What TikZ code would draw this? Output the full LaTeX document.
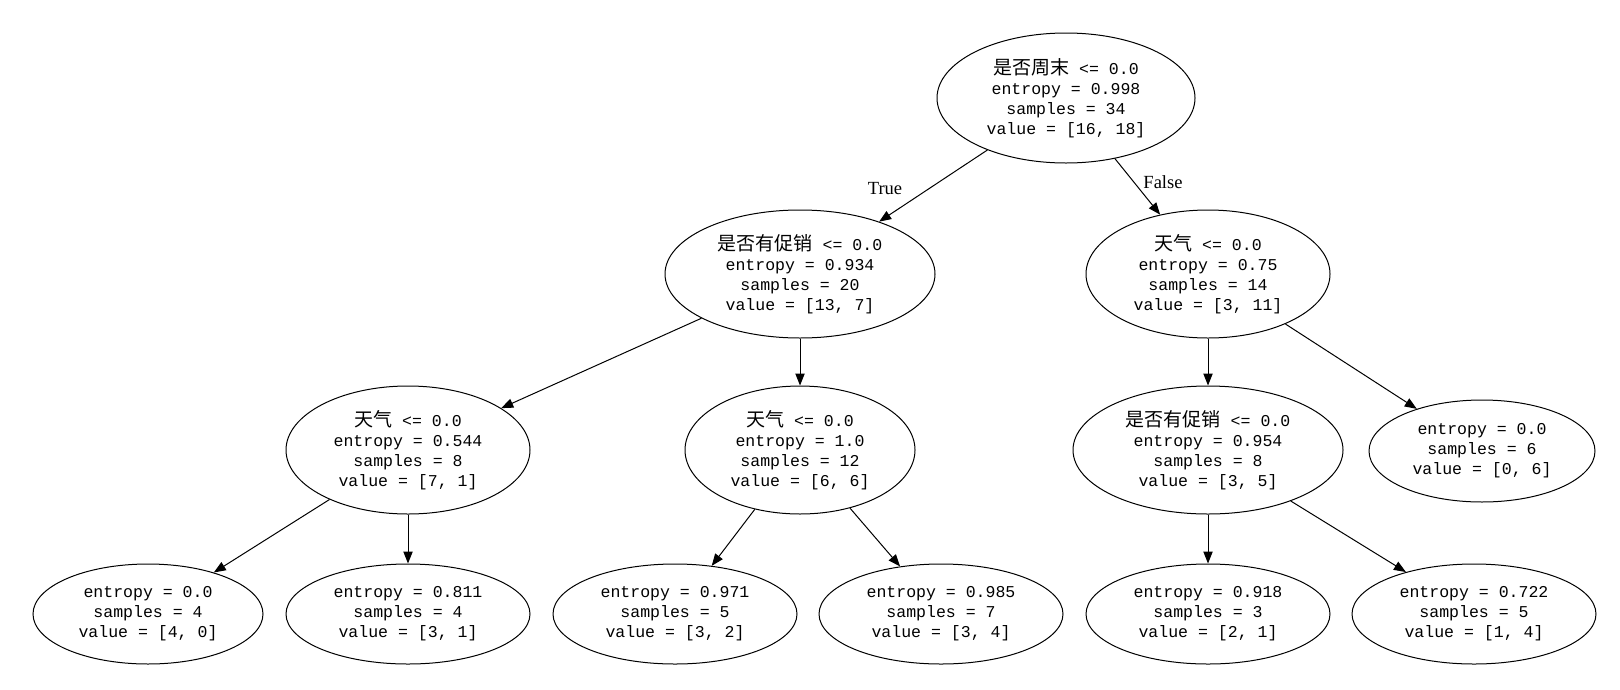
\documentclass[tikz,border=0pt]{standalone}
\usepackage{fontspec}
\setmainfont{Liberation Mono}
\newfontfamily\cjk[Scale=1.15]{Noto Sans CJK SC}
\newfontfamily\lblfont{Liberation Serif}
\usetikzlibrary{shapes.geometric,arrows.meta}
\tikzset{
  tnode/.style={draw, ellipse, inner sep=0pt, align=center, line width=0.75pt,
    font=\fontsize{12.4}{15}\selectfont},
  tedge/.style={-{Triangle[length=9pt,width=7pt]}, line width=0.75pt},
  tlabel/.style={font=\lblfont\fontsize{13.9}{16}\selectfont}
}
\begin{document}
\begin{tikzpicture}[x=0.75pt,y=0.75pt,yscale=-1,xscale=1]
\useasboundingbox (0,0) rectangle (1620,689);
% level 0
\node[tnode, minimum width=193.5pt, minimum height=97.5pt] (n0) at (1066,98) {{\cjk 是否周末} <= 0.0\\entropy = 0.998\\samples = 34\\value = [16, 18]};
% level 1
\node[tnode, minimum width=202.5pt, minimum height=96pt] (n1) at (800,274) {{\cjk 是否有促销} <= 0.0\\entropy = 0.934\\samples = 20\\value = [13, 7]};
\node[tnode, minimum width=183pt, minimum height=96pt] (n8) at (1208,274) {{\cjk 天气} <= 0.0\\entropy = 0.75\\samples = 14\\value = [3, 11]};
% level 2
\node[tnode, minimum width=183pt, minimum height=96pt] (n2) at (408,450) {{\cjk 天气} <= 0.0\\entropy = 0.544\\samples = 8\\value = [7, 1]};
\node[tnode, minimum width=172.5pt, minimum height=96pt] (n5) at (800,450) {{\cjk 天气} <= 0.0\\entropy = 1.0\\samples = 12\\value = [6, 6]};
\node[tnode, minimum width=202.5pt, minimum height=96pt] (n9) at (1208,450) {{\cjk 是否有促销} <= 0.0\\entropy = 0.954\\samples = 8\\value = [3, 5]};
\node[tnode, minimum width=169.5pt, minimum height=76.5pt] (n12) at (1482,451) {entropy = 0.0\\samples = 6\\value = [0, 6]};
% leaves
\node[tnode, minimum width=172.5pt, minimum height=75pt] (n3) at (148,614) {entropy = 0.0\\samples = 4\\value = [4, 0]};
\node[tnode, minimum width=183pt, minimum height=75pt] (n4) at (408,614) {entropy = 0.811\\samples = 4\\value = [3, 1]};
\node[tnode, minimum width=183pt, minimum height=75pt] (n6) at (675,614) {entropy = 0.971\\samples = 5\\value = [3, 2]};
\node[tnode, minimum width=183pt, minimum height=75pt] (n7) at (941,614) {entropy = 0.985\\samples = 7\\value = [3, 4]};
\node[tnode, minimum width=183pt, minimum height=75pt] (n10) at (1208,614) {entropy = 0.918\\samples = 3\\value = [2, 1]};
\node[tnode, minimum width=183pt, minimum height=75pt] (n11) at (1474,614) {entropy = 0.722\\samples = 5\\value = [1, 4]};
% edges
\draw[tedge] (n0) -- (n1);
\draw[tedge] (n0) -- (n8);
\draw[tedge] (n1) -- (n2);
\draw[tedge] (n1) -- (n5);
\draw[tedge] (n2) -- (n3);
\draw[tedge] (n2) -- (n4);
\draw[tedge] (n5) -- (n6);
\draw[tedge] (n5) -- (n7);
\draw[tedge] (n8) -- (n9);
\draw[tedge] (n8) -- (n12);
\draw[tedge] (n9) -- (n10);
\draw[tedge] (n9) -- (n11);
\node[tlabel] (t) at (885,189) {True};
\node[tlabel] (f) at (1163,182) {False};
\end{tikzpicture}
\end{document}
